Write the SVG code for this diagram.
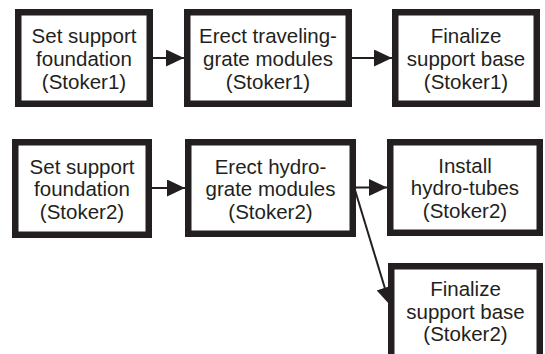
<svg xmlns="http://www.w3.org/2000/svg" width="545" height="354" viewBox="0 0 545 354">
<defs>
<style>
.box{fill:#fff;stroke:#231f20;stroke-width:6.5}
.t{font-family:"Liberation Sans",Arial,sans-serif;font-size:20.5px;fill:#231f20;text-anchor:middle}
.c{stroke:#231f20;stroke-width:2;fill:none;marker-end:url(#ah)}
</style>
<marker id="ah" markerUnits="userSpaceOnUse" markerWidth="18" markerHeight="17" refX="18" refY="8.5" orient="auto" viewBox="0 0 18 17">
<path d="M0,0 L18,8.5 L0,17 z" fill="#231f20"/>
</marker>
</defs>
<rect width="545" height="354" fill="#fff"/>
<g id="connectors">
<line class="c" x1="153" y1="58" x2="184" y2="58"/>
<line class="c" x1="352" y1="58" x2="392" y2="58"/>
<line class="c" x1="152" y1="188" x2="185" y2="188"/>
<line class="c" x1="355" y1="187.5" x2="387" y2="187.5"/>
<line class="c" x1="355" y1="190" x2="390" y2="305"/>
</g>
<g id="a1">
<rect class="box" x="18.25" y="12.25" width="131.5" height="91.5"/>
<text class="t" x="84" y="43">Set support</text>
<text class="t" x="84" y="66">foundation</text>
<text class="t" x="84" y="88.5">(Stoker1)</text>
</g>
<g id="a2">
<rect class="box" x="187.25" y="12.25" width="161.5" height="91.5"/>
<text class="t" x="268" y="43">Erect traveling-</text>
<text class="t" x="268" y="66">grate modules</text>
<text class="t" x="268" y="88.5">(Stoker1)</text>
</g>
<g id="a3">
<rect class="box" x="395.25" y="12.25" width="141.5" height="91.5"/>
<text class="t" x="466" y="43">Finalize</text>
<text class="t" x="466" y="66">support base</text>
<text class="t" x="466" y="88.5">(Stoker1)</text>
</g>
<g id="b1">
<rect class="box" x="15.25" y="142.25" width="133.5" height="92.5"/>
<text class="t" x="82" y="173.5">Set support</text>
<text class="t" x="82" y="196">foundation</text>
<text class="t" x="82" y="218.5">(Stoker2)</text>
</g>
<g id="b2">
<rect class="box" x="188.25" y="142.25" width="164.5" height="91.5"/>
<text class="t" x="270.5" y="173.5">Erect hydro-</text>
<text class="t" x="270.5" y="196">grate modules</text>
<text class="t" x="270.5" y="218.5">(Stoker2)</text>
</g>
<g id="b3">
<rect class="box" x="390.25" y="142.25" width="149.5" height="90.5"/>
<text class="t" x="465" y="172.5">Install</text>
<text class="t" x="465" y="195">hydro-tubes</text>
<text class="t" x="465" y="217.5">(Stoker2)</text>
</g>
<g id="b4">
<rect class="box" x="391.25" y="266.25" width="148.5" height="100"/>
<text class="t" x="465.5" y="296">Finalize</text>
<text class="t" x="465.5" y="318.5">support base</text>
<text class="t" x="465.5" y="341">(Stoker2)</text>
</g>
</svg>
